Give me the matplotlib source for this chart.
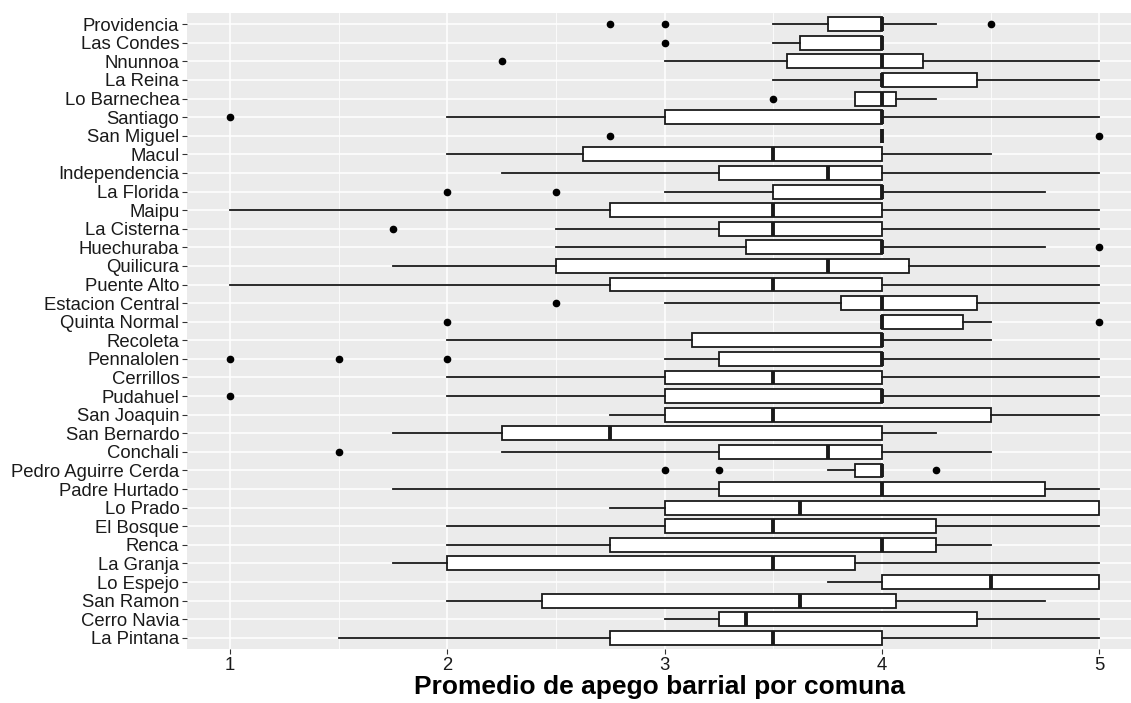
import matplotlib
matplotlib.use("Agg")
from matplotlib import pyplot as plt
import numpy as np

plt.rcParams['font.family'] = ['Liberation Sans', 'DejaVu Sans']

# orden de arriba hacia abajo
comunas = ['Providencia', 'Las Condes', 'Nnunnoa', 'La Reina', 'Lo Barnechea', 'Santiago',
           'San Miguel', 'Macul', 'Independencia', 'La Florida', 'Maipu', 'La Cisterna',
           'Huechuraba', 'Quilicura', 'Puente Alto', 'Estacion Central', 'Quinta Normal',
           'Recoleta', 'Pennalolen', 'Cerrillos', 'Pudahuel', 'San Joaquin', 'San Bernardo',
           'Conchali', 'Pedro Aguirre Cerda', 'Padre Hurtado', 'Lo Prado', 'El Bosque',
           'Renca', 'La Granja', 'Lo Espejo', 'San Ramon', 'Cerro Navia', 'La Pintana']
whislo = [3.5, 3.5, 3, 3.5, 3.875, 2, 4, 2, 2.25, 3, 1, 2.5, 2.5, 1.75, 1, 3, 4, 2, 3, 2, 2,
          2.75, 1.75, 2.25, 3.75, 1.75, 2.75, 2, 2, 1.75, 3.75, 2, 3, 1.5]
q1 = [3.75, 3.625, 3.5625, 4, 3.875, 3, 4, 2.625, 3.25, 3.5, 2.75, 3.25, 3.375, 2.5, 2.75,
      3.8125, 4, 3.125, 3.25, 3, 3, 3, 2.25, 3.25, 3.875, 3.25, 3, 3, 2.75, 2, 4, 2.4375,
      3.25, 2.75]
mediana = [4, 4, 4, 4, 4, 4, 4, 3.5, 3.75, 4, 3.5, 3.5, 4, 3.75, 3.5, 4, 4, 4, 4, 3.5, 4,
           3.5, 2.75, 3.75, 4, 4, 3.625, 3.5, 4, 3.5, 4.5, 3.625, 3.375, 3.5]
q3 = [4, 4, 4.1875, 4.4375, 4.0625, 4, 4, 4, 4, 4, 4, 4, 4, 4.125, 4, 4.4375, 4.375, 4, 4,
      4, 4, 4.5, 4, 4, 4, 4.75, 5, 4.25, 4.25, 3.875, 5, 4.0625, 4.4375, 4]
whishi = [4.25, 4, 5, 5, 4.25, 5, 4, 4.5, 5, 4.75, 5, 5, 4.75, 5, 5, 5, 4.5, 4.5, 5, 5, 5,
          5, 4.25, 4.5, 4, 5, 5, 5, 4.5, 5, 5, 4.75, 5, 5]
atipicos = [[2.75, 3, 4.5], [3], [2.25], [], [3.5], [1], [2.75, 5], [], [], [2, 2.5], [],
            [1.75], [5], [], [], [2.5], [2, 5], [], [1, 1.5, 2], [], [1], [], [], [1.5],
            [3, 3.25, 4.25], [], [], [], [], [], [], [], [], []]

stats = []
for i, c in enumerate(comunas):
    stats.append(dict(label=c, whislo=whislo[i], q1=q1[i], med=mediana[i], q3=q3[i],
                      whishi=whishi[i], fliers=atipicos[i]))

fig = plt.figure(figsize=(11.31, 7.03), dpi=100)
ax = fig.add_axes([187 / 1131, 54 / 703, 944 / 1131, 636 / 703])
ax.set_facecolor('#EBEBEB')

posiciones = np.arange(len(comunas))
ax.bxp(stats, positions=posiciones, vert=False, widths=0.75, showcaps=False, patch_artist=True,
       boxprops=dict(facecolor='white', edgecolor='#1a1a1a', linewidth=1.3),
       medianprops=dict(color='#1a1a1a', linewidth=2.8, solid_capstyle='butt'),
       whiskerprops=dict(color='#1a1a1a', linewidth=1.3),
       flierprops=dict(marker='o', markerfacecolor='black', markeredgecolor='black',
                       markersize=4.5, linestyle='none'), zorder=3)

ax.set_xlim(0.802, 5.146)
ax.set_ylim(len(comunas) - 0.4, -0.6)
ax.set_xticks([1, 2, 3, 4, 5])
ax.set_xticklabels(['1', '2', '3', '4', '5'])
ax.set_xticks([1.5, 2.5, 3.5, 4.5], minor=True)
ax.set_yticks(posiciones)
ax.set_yticklabels(comunas)

ax.grid(True, which='major', color='white', linewidth=1.1, zorder=0)
ax.grid(True, which='minor', axis='x', color='white', linewidth=0.55, zorder=0)
ax.set_axisbelow(True)
for s in ax.spines.values():
    s.set_visible(False)

ax.tick_params(axis='both', which='major', color='#333333', length=3.5, width=0.8,
               labelsize=13.3, labelcolor='#1a1a1a', pad=2)
ax.tick_params(axis='x', which='minor', length=0)
ax.set_xlabel('Promedio de apego barrial por comuna', fontsize=19, fontweight='bold',
              labelpad=1)

fig.savefig('out.png', dpi=100)
